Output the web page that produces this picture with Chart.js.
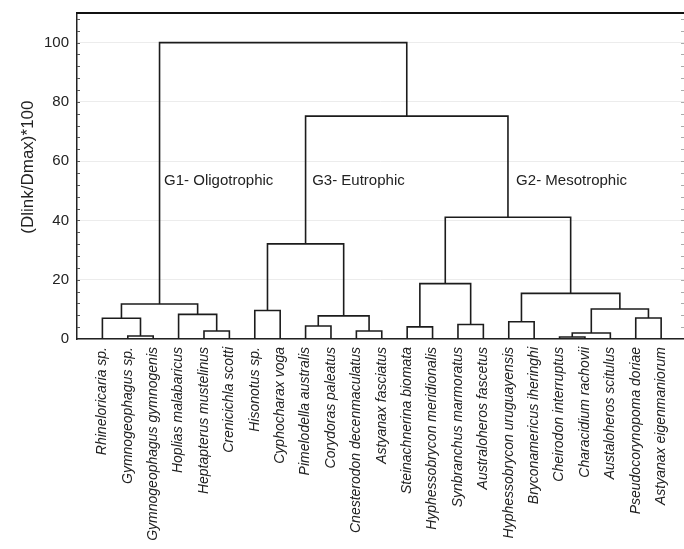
<!DOCTYPE html>
<html lang="en">
<head>
  <meta charset="UTF-8">
  <title>Dendrogram</title>
  <script src="https://cdn.jsdelivr.net/npm/chart.js@4.4.0/dist/chart.umd.min.js"></script>
  <style>
    body {
      margin: 0;
      background-color: #ffffff;
      font-family: "Liberation Sans", Arial, sans-serif;
    }
    .chart-container {
      width: 684px;
      height: 549px;
    }
  </style>
</head>
<body>
  <div class="chart-container">
    <canvas id="dendro" width="684" height="549"></canvas>
  </div>

  <script>
    // Hojas del dendrograma (de izquierda a derecha)
    const leafNames = [
      'Rhineloricaria sp.', 'Gymnogeophagus sp.', 'Gymnogeophagus gymnogenis',
      'Hoplias malabaricus', 'Heptapterus mustelinus', 'Crenicichla scotti',
      'Hisonotus sp.', 'Cyphocharax voga', 'Pimelodella australis',
      'Corydoras paleatus', 'Cnesterodon decenmaculatus', 'Astyanax fasciatus',
      'Steinachnerina biomata', 'Hyphessobrycon meridionalis', 'Synbranchus marmoratus',
      'Australoheros fascetus', 'Hyphessobrycon uruguayensis', 'Bryconamericus iheringhi',
      'Cheirodon interruptus', 'Characidium rachovii', 'Austaloheros scitulus',
      'Pseudocorynopoma doriae', 'Astyanax eigenmaniorum'
    ];

    // Uniones: indices < 23 son hojas, >= 23 son grupos creados en orden
    const mergeLeft   = [1, 0, 4, 3, 24, 6, 8, 10, 29, 28, 12, 14, 33, 16, 18, 37, 21, 38, 36, 35, 32, 27];
    const mergeRight  = [2, 23, 5, 25, 26, 7, 9, 11, 30, 31, 13, 15, 34, 17, 19, 20, 22, 39, 40, 41, 42, 43];
    const mergeHeight = [1.0, 7.0, 2.7, 8.3, 11.8, 9.6, 4.4, 2.7, 7.8, 32.1, 4.1, 4.9, 18.7, 5.8, 0.7, 2.0, 7.1, 10.1, 15.4, 41.1, 75.2, 100];

    const yTicks = [0, 20, 40, 60, 80, 100];
    const yTitle = '(Dlink/Dmax)*100';

    // Etiquetas de los grupos (en unidades de los ejes)
    const groupLabels = ['G1- Oligotrophic', 'G3- Eutrophic', 'G2- Mesotrophic'];
    const groupX = [3.43, 9.26, 17.29];
    const groupY = [53.3, 53.3, 53.3];

    // Construir los segmentos del dendrograma
    const nodeX = leafNames.map((_, i) => i + 1);
    const nodeH = leafNames.map(() => 0);
    const datasets = [];
    mergeLeft.forEach((l, k) => {
      const r = mergeRight[k];
      const h = mergeHeight[k];
      datasets.push({
        data: [
          { x: nodeX[l], y: nodeH[l] },
          { x: nodeX[l], y: h },
          { x: nodeX[r], y: h },
          { x: nodeX[r], y: nodeH[r] }
        ],
        showLine: true,
        borderColor: '#1c1c1c',
        borderWidth: 1.6,
        pointRadius: 0,
        fill: false
      });
      nodeX.push((nodeX[l] + nodeX[r]) / 2);
      nodeH.push(h);
    });

    // Texto de los grupos, titulo del eje, borde superior y marcas menores
    const extras = {
      id: 'extras',
      afterDatasetsDraw(chart) {
        const { ctx, chartArea, scales } = chart;
        ctx.save();
        ctx.fillStyle = '#222';
        ctx.font = '15px "Liberation Sans", Arial, sans-serif';
        ctx.textAlign = 'left';
        ctx.textBaseline = 'middle';
        groupLabels.forEach((t, i) => {
          ctx.fillText(t, scales.x.getPixelForValue(groupX[i]), scales.y.getPixelForValue(groupY[i]));
        });

        // titulo del eje y
        ctx.save();
        ctx.translate(28, scales.y.getPixelForValue(58));
        ctx.rotate(-Math.PI / 2);
        ctx.textAlign = 'center';
        ctx.font = '17px "Liberation Sans", Arial, sans-serif';
        ctx.fillText(yTitle, 0, 0);
        ctx.restore();

        ctx.strokeStyle = '#111';
        ctx.lineWidth = 2;
        ctx.beginPath();
        ctx.moveTo(chartArea.left - 1, chartArea.top);
        ctx.lineTo(chartArea.right, chartArea.top);
        ctx.stroke();

        ctx.lineWidth = 1;
        for (let v = 4; v < 110; v += 4) {
          const py = Math.round(scales.y.getPixelForValue(v)) + 0.5;
          ctx.strokeStyle = '#555';
          ctx.beginPath();
          ctx.moveTo(chartArea.left, py);
          ctx.lineTo(chartArea.left + 3, py);
          ctx.stroke();
          ctx.strokeStyle = '#aaa';
          ctx.beginPath();
          ctx.moveTo(chartArea.right - 3, py);
          ctx.lineTo(chartArea.right, py);
          ctx.stroke();
        }
        ctx.restore();
      }
    };

    const chart = new Chart(document.getElementById('dendro').getContext('2d'), {
      type: 'scatter',
      data: { datasets: datasets },
      options: {
        responsive: false,
        animation: false,
        layout: { padding: { left: 0, top: 13, right: 0, bottom: 0 } },
        plugins: {
          legend: { display: false },
          tooltip: { enabled: false }
        },
        scales: {
          x: {
            type: 'linear',
            min: 0,
            max: 23.9,
            afterBuildTicks: (scale) => {
              scale.ticks = leafNames.map((_, i) => ({ value: i + 1 }));
            },
            afterFit: (scale) => {
              scale.height = 210;
              scale.paddingLeft = 0;
              scale.paddingRight = 0;
            },
            grid: { display: false, drawTicks: false },
            border: { color: '#222', width: 1.5 },
            ticks: {
              autoSkip: false,
              minRotation: 90,
              maxRotation: 90,
              padding: 8,
              color: '#222',
              font: { family: '"Liberation Sans", Arial, sans-serif', size: 14, style: 'italic' },
              callback: (v) => leafNames[v - 1] || ''
            }
          },
          y: {
            min: 0,
            max: 110,
            afterBuildTicks: (scale) => {
              scale.ticks = yTicks.map(v => ({ value: v }));
            },
            afterFit: (scale) => {
              scale.width = 77;
              scale.paddingTop = 0;
              scale.paddingBottom = 0;
            },
            grid: { color: '#ececec', drawTicks: false },
            border: { color: '#222', width: 1.5 },
            ticks: {
              padding: 8,
              color: '#222',
              font: { family: '"Liberation Sans", Arial, sans-serif', size: 15 }
            }
          }
        }
      },
      plugins: [extras]
    });
  </script>
</body>
</html>
